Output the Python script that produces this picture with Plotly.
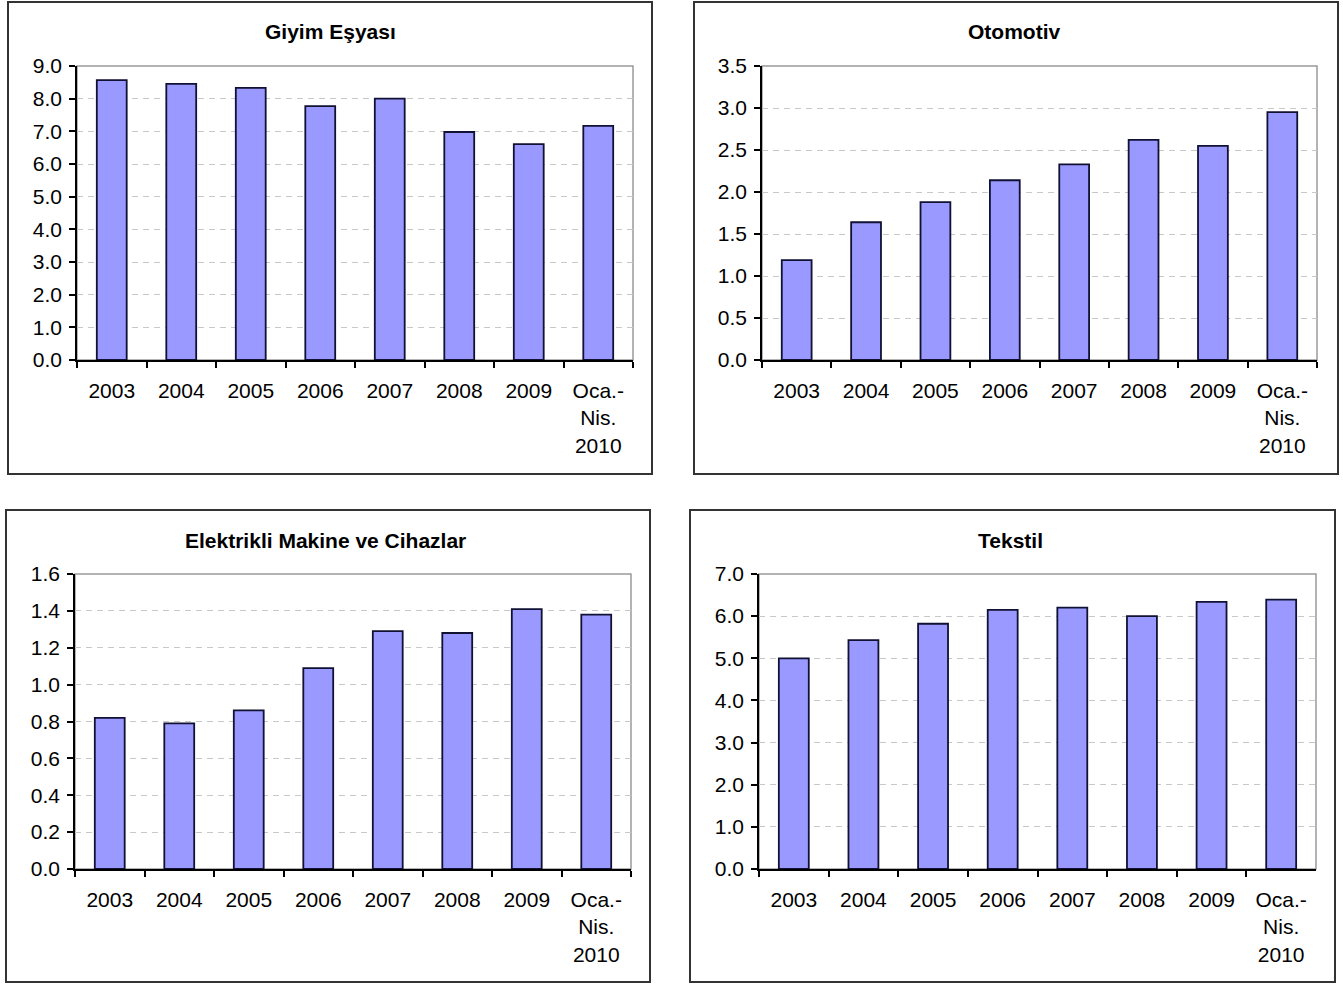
import plotly.graph_objects as go

# Period labels shared by all four panels
categories = ["2003", "2004", "2005", "2006", "2007", "2008", "2009", "Oca.-<br>Nis.<br>2010"]

# Series values per sector
giyim = [8.57, 8.45, 8.33, 7.77, 8.0, 6.98, 6.61, 7.17]
otomotiv = [1.19, 1.64, 1.88, 2.14, 2.33, 2.62, 2.55, 2.95]
elektrikli = [0.82, 0.79, 0.86, 1.09, 1.29, 1.28, 1.41, 1.38]
tekstil = [5.0, 5.43, 5.82, 6.15, 6.2, 6.0, 6.34, 6.39]

titles = ["Giyim Eşyası", "Otomotiv", "Elektrikli Makine ve Cihazlar", "Tekstil"]
series = [giyim, otomotiv, elektrikli, tekstil]
y_max = [9.0, 3.5, 1.6, 7.0]
y_step = [1.0, 0.5, 0.2, 1.0]

W, H = 1343, 985

# Layout geometry in pixels: plot area (x0, x1, y0, y1) and outer frame
plot_px = [
    (77, 633, 66, 360),
    (762, 1317, 66, 360),
    (75, 631, 574, 869),
    (759, 1316, 574, 869),
]
frame_px = [
    (8, 2, 652, 474),
    (694, 2, 1338, 474),
    (6, 510, 650, 982),
    (690, 510, 1335, 982),
]
title_px = [(330, 31), (1014, 31), (325, 540), (1010, 540)]

FONT = "Liberation Sans, Arial, sans-serif"

fig = go.Figure()
shapes = []
annotations = []

for i, (vals, ttl) in enumerate(zip(series, titles)):
    n = "" if i == 0 else str(i + 1)
    xa, ya = "x" + n, "y" + n
    fig.add_trace(go.Bar(
        x=categories, y=vals, xaxis=xa, yaxis=ya,
        marker=dict(color="#9999FF", line=dict(color="#111133", width=1.8)),
        showlegend=False, hoverinfo="x+y",
    ))
    x0, x1, y0, y1 = plot_px[i]
    dom_x = [x0 / W, x1 / W]
    dom_y = [1 - y1 / H, 1 - y0 / H]
    step = y_step[i]
    nt = int(round(y_max[i] / step))
    tickvals = [round(k * step, 2) for k in range(nt + 1)]
    fig.update_layout({
        "xaxis" + n: dict(
            domain=dom_x, anchor=ya, type="category", automargin=False,
            showline=True, linecolor="#000000", linewidth=1.5,
            ticks="outside", tickson="boundaries", ticklen=6,
            tickcolor="#000000", tickwidth=1.5, ticklabelstandoff=11,
            showgrid=False, zeroline=False,
            tickfont=dict(family=FONT, size=21, color="#000000"),
            fixedrange=True,
        ),
        "yaxis" + n: dict(
            domain=dom_y, anchor=xa, range=[0, y_max[i]], automargin=False,
            tickvals=tickvals, ticktext=[f"{v:.1f}" for v in tickvals],
            showline=True, linecolor="#000000", linewidth=1.5,
            ticks="outside", ticklen=6, tickcolor="#000000", tickwidth=1.5,
            ticklabelstandoff=3,
            showgrid=True, gridcolor="#c8c8c8", gridwidth=1.2,
            griddash="6px,5px", zeroline=False,
            tickfont=dict(family=FONT, size=21, color="#000000"),
            fixedrange=True,
        ),
    })
    # light grey top/right border of the plot area
    shapes.append(dict(
        type="rect", xref=xa + " domain", yref=ya + " domain",
        x0=0, x1=1, y0=0, y1=1, line=dict(color="#9a9a9a", width=1.5),
        layer="below",
    ))
    # outer chart frame
    fx0, fy0, fx1, fy1 = frame_px[i]
    shapes.append(dict(
        type="rect", xref="paper", yref="paper",
        x0=fx0 / W, x1=fx1 / W, y0=1 - fy1 / H, y1=1 - fy0 / H,
        line=dict(color="#333333", width=2),
    ))
    tx, ty = title_px[i]
    annotations.append(dict(
        text=f"<b>{ttl}</b>", xref="paper", yref="paper",
        x=tx / W, y=1 - ty / H, xanchor="center", yanchor="middle",
        showarrow=False, font=dict(family=FONT, size=21, color="#000000"),
    ))

fig.update_layout(
    template="none",
    width=W, height=H,
    margin=dict(l=0, r=0, t=0, b=0, pad=0, autoexpand=False),
    paper_bgcolor="#ffffff", plot_bgcolor="#ffffff",
    showlegend=False,
    bargap=0.57,
    shapes=shapes, annotations=annotations,
)

fig.write_html("out.html", config={"displayModeBar": False})
